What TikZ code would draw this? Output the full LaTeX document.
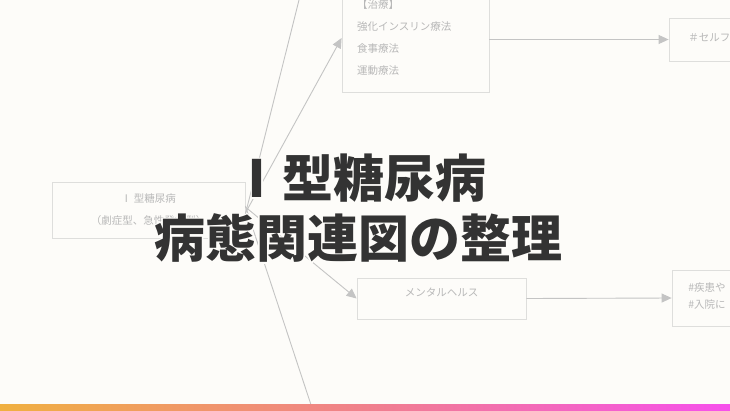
\documentclass[tikz,border=0pt]{standalone}
\usepackage{fontspec}
\newfontfamily\jp{Noto Sans CJK JP}
\newfontfamily\jphalo{Noto Sans CJK JP}[BoldFeatures={FakeBold=6}]
\usetikzlibrary{arrows.meta}
\definecolor{paper}{HTML}{FDFCF9}
\definecolor{faint}{HTML}{C4C4C4}
\definecolor{boxline}{HTML}{DEDEDC}
\definecolor{faintext}{HTML}{B8B8B8}
\definecolor{ink}{HTML}{333333}

\begin{document}
\begin{tikzpicture}
	[x=1pt, y=-1pt, thick,
	 box/.style = {draw=boxline, line width=0.8pt, rectangle, font=\jp\fontsize{10.5}{22}\selectfont, text=faintext},
	 link/.style = {draw=faint, line width=0.9pt},
	 arr/.style = {link, -{Triangle[length=10pt,width=9pt]}},
	 title/.style = {font=\jp\bfseries\fontsize{51}{56}\selectfont, text=ink},
	 halo/.style = {font=\jphalo\bfseries\fontsize{51}{56}\selectfont, text=paper}]
	\useasboundingbox (0,0) rectangle (730,410);
	\fill[paper] (0,0) rectangle (730,410);
	\clip (0,0) rectangle (730,410);
	% boxes
	\node[box, minimum width=193pt, minimum height=56pt, align=center] (main) at (148.5,210) {Ⅰ 型糖尿病\\（劇症型、急性発症型）};
	\node[box, minimum width=147pt, minimum height=108pt, text width=117pt, inner xsep=15pt, align=left] (treat) at (415.5,38) {【治療】\\強化インスリン療法\\食事療法\\運動療法};
	\node[box, minimum width=100pt, minimum height=43pt] (self) at (719,39.5) {};
	\node[box, draw=none, anchor=west, inner sep=0pt] (selft) at (688,38) {＃セルフ};
	\node[box, minimum width=169pt, minimum height=41pt, text depth=12pt] (mental) at (441.5,298.5) {メンタルヘルス};
	\node[box, minimum width=100pt, minimum height=56pt] (ward) at (722,298) {};
	\node[box, draw=none, anchor=west, inner sep=0pt, align=left, font=\jp\fontsize{10.5}{17}\selectfont] (wardt) at (688,296.5) {\#疾患や\\\#入院に};
	\coordinate (up) at (304,-20);
	\coordinate (down) at (316,420);
	% connectors
	\draw[link] ([yshift=-4pt]main.east) -- (up);
	\draw[arr] ([yshift=-3pt]main.east) -- (treat.west);
	\draw[arr] ([yshift=3pt]main.east) -- (mental.west);
	\draw[link] ([yshift=4pt]main.east) -- (down);
	\draw[arr] (treat.east |- self.west) -- (self.west);
	\draw[arr] (mental.east) -- (ward.west);
	% title with halo
	\node[halo] (halo1) at (359,178) {Ⅰ型糖尿病};
	\node[halo] (halo2) at (358,238) {病態関連図の整理};
	\node[title] (line1) at (359,178) {Ⅰ型糖尿病};
	\node[title] (line2) at (358,238) {病態関連図の整理};
	% bar
	\shade[left color={rgb,255:red,240;green,176;blue,64}, right color={rgb,255:red,246;green,80;blue,236}, middle color={rgb,255:red,240;green,128;blue,140}] (0,404.5) rectangle (730,410);
\end{tikzpicture}
\end{document}
